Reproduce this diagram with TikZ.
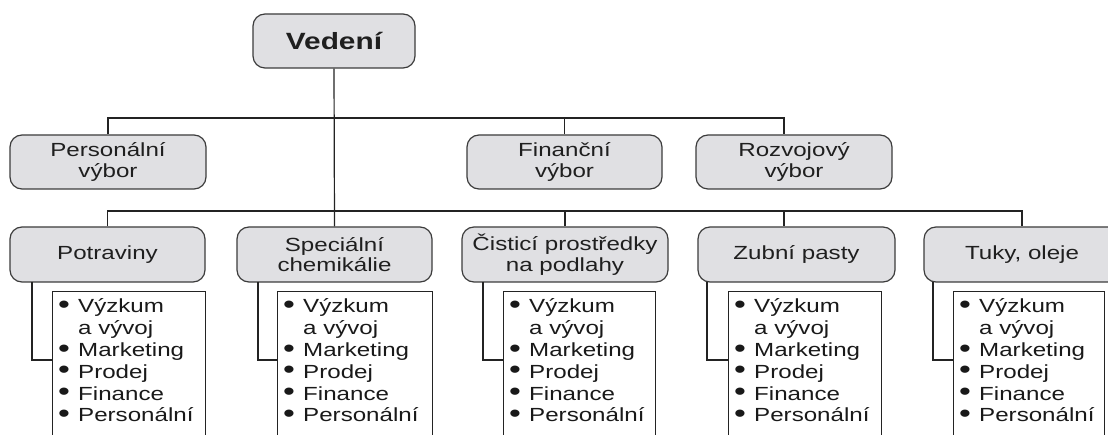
\documentclass[tikz,border=0pt]{standalone}
\usepackage{fontspec}
\setmainfont{Liberation Sans}[FakeStretch=1.27]
\definecolor{boxfill}{RGB}{224,224,227}
\definecolor{boxline}{RGB}{60,60,60}
\definecolor{conline}{RGB}{35,35,35}
\newcommand{\itm}[1]{\makebox[20pt][l]{\raisebox{-0.6pt}{\scalebox{1.4}{•}}}#1}
\newcommand{\ind}[1]{\makebox[20pt][l]{}#1}
\begin{document}
\begin{tikzpicture}[x=1pt,y=-1pt,
  box/.style={draw=boxline, fill=boxfill, rounded corners=12pt, line width=1.2pt,
    minimum height=54pt, inner sep=0pt, align=center, text=black!88,
    font=\fontsize{19}{20.5}\selectfont},
  topbox/.style={box, font=\fontsize{23.5}{26}\selectfont\bfseries},
  lbox/.style={draw=conline, line width=1.2pt, fill=white, inner sep=0pt,
    anchor=north west, minimum height=190pt},
  ltext/.style={anchor=base west, inner sep=0pt,
    font=\fontsize{19}{21.8}\selectfont, text=black!90},
  conn/.style={draw=conline, line width=1.2pt},
]
\useasboundingbox (0,0) rectangle (1108,435);
\clip (0,0) rectangle (1108,435);
\fill[white] (0,0) rectangle (1108,435);

% top level
\node[topbox, minimum width=162pt, minimum height=54pt] (ved) at (334,41) {Vedení};

% committees
\node[box, minimum width=196pt] (pers) at (108,162) {Personální\\výbor};
\node[box, minimum width=195pt] (fin) at (564.5,162) {Finanční\\výbor};
\node[box, minimum width=196pt] (roz) at (794,162) {Rozvojový\\výbor};

% divisions
\node[box, minimum width=195pt, minimum height=55pt] (pot) at (107.5,254.5) {Potraviny};
\node[box, minimum width=195pt, minimum height=55pt] (spe) at (334.5,254.5) {Speciální\\chemikálie};
\node[box, minimum width=206pt, minimum height=55pt] (cis) at (565,254.5) {Čisticí prostředky\\na podlahy};
\node[box, minimum width=197pt, minimum height=55pt] (zub) at (796.5,254.5) {Zubní pasty};
\node[box, minimum width=196pt, minimum height=55pt] (tuk) at (1022,254.5) {Tuky, oleje};

% bus coordinates
\coordinate (b1L) at (108,118);
\coordinate (b1R) at (784,118);
\coordinate (b2L) at (107,211);
\coordinate (b2Z) at (784,211);
\coordinate (b2R) at (1022,211);

% connectors upper level
\draw[conn] (ved.south) -- (spe.north);
\draw[conn] (pers.north) |- (b1R) -- (b1R |- roz.north);
\draw[conn] (fin.north) -- (fin.north |- b1L);
% connectors lower level
\draw[conn] (pot.north) |- (b2R) -- (tuk.north);
\draw[conn] (cis.north) -- (cis.north |- b2L);
\draw[conn] (b2Z) -- (b2Z |- zub.north);

% list boxes
\node[lbox, minimum width=153pt] (l1) at (52,291) {};
\node[lbox, minimum width=155pt] (l2) at (277,291) {};
\node[lbox, minimum width=152pt] (l3) at (503,291) {};
\node[lbox, minimum width=153pt] (l4) at (728,291) {};
\node[lbox, minimum width=151pt] (l5) at (953,291) {};

% side connectors
\coordinate (j1) at (52,360);
\coordinate (j2) at (277,360);
\coordinate (j3) at (503,360);
\coordinate (j4) at (728,360);
\coordinate (j5) at (953,360);
\coordinate (s1) at (32,282);
\coordinate (s2) at (258,282);
\coordinate (s3) at (483,282);
\coordinate (s4) at (707,282);
\coordinate (s5) at (933,282);
\foreach \i in {1,...,5} {
  \draw[conn] (s\i) |- (j\i);
}

% list texts
\foreach \i/\x in {1/58,2/283,3/509,4/734,5/959} {
  \node[ltext] (t\i) at (\x,313) {\parbox[t]{145pt}{\raggedright
    \itm{Výzkum}\\
    \ind{a vývoj}\\
    \itm{Marketing}\\
    \itm{Prodej}\\
    \itm{Finance}\\
    \itm{Personální}}};
}
\end{tikzpicture}
\end{document}
